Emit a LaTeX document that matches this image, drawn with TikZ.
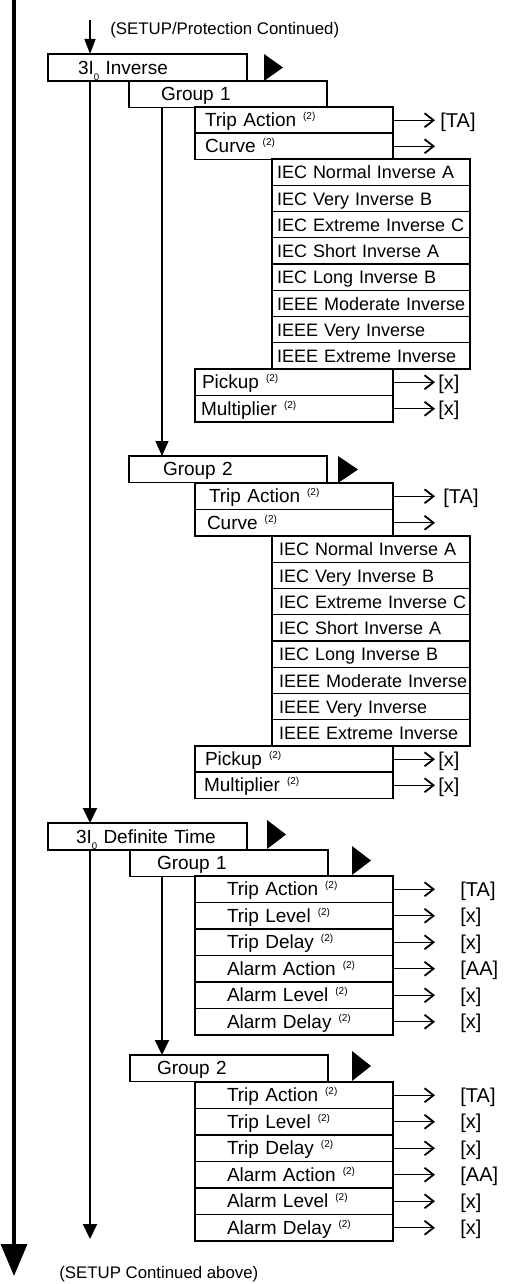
\documentclass[tikz,border=0pt]{standalone}
\usepackage{fontspec}
\setmainfont{Liberation Sans}
\usetikzlibrary{arrows.meta}
\newcommand\tsup{\hspace{3.5pt}\raisebox{3.6pt}{\fontsize{5}{6}\selectfont(2)}}
\newcommand\tsub{\raisebox{-3pt}{\fontsize{4.8}{5}\selectfont 0}}
\begin{document}
\begin{tikzpicture}[x=0.5pt,y=-0.5pt,
  base/.style={draw, anchor=north west, outer sep=0pt, inner ysep=0pt, align=left,
    text height=6.7pt, text depth=0pt, font=\fontsize{9.5}{11}\selectfont},
  thickbox/.style={base, line width=1.25pt, minimum height=13.5pt},
  itembox/.style={base, line width=0.7pt, minimum height=13.25pt},
  crvbox/.style={base, line width=0.7pt, minimum height=13.125pt, font=\fontsize{9}{11}\selectfont},
  lbl/.style={inner sep=0pt, anchor=west, text height=7pt, text depth=0pt, font=\fontsize{10}{12}\selectfont},
  note/.style={inner sep=0pt, anchor=west, font=\fontsize{8.4}{10}\selectfont},
  rarr/.style={line width=0.6pt, -{Straight Barb[length=4.5pt,width=7pt,line width=0.9pt]}},
  varr/.style={line width=#1, -{Triangle[length=7.5pt,width=6.5pt]}},
  play/.style={fill=black}
]
\useasboundingbox (0,0) rectangle (506,1284);

% main flow line
\coordinate (mtop) at (14,0);
\coordinate (mbot) at (14,1276);
\draw[line width=1.75pt, -{Triangle[length=16pt,width=13pt]}] (mtop) -- (mbot);

\node[note] (ntop) at (110,30) {(SETUP/Protection Continued)};
\node[note] (nbot) at (59,1274) {(SETUP Continued above)};

% ---------------- 3I0 Inverse ----------------
\node[thickbox, inner xsep=15pt, text width=69.5pt] (inv) at (48,54) {\mbox{3I\tsub\ Inverse}};
\fill[play] (264,54) -- (264,81) -- (283,67.5) -- cycle;
\coordinate (tstart) at (90,20);
\draw[line width=0.75pt, -{Triangle[length=7.5pt,width=5.5pt]}] (tstart) -- (tstart |- inv.north);

% Group 1
\node[itembox, inner xsep=16pt, text width=67pt] (ig1) at (129,81) {Group 1};
\node[itembox, inner xsep=5pt, text width=89pt] (ig1ta) at (195,107) {Trip Action\tsup};
\node[itembox, inner xsep=5pt, text width=89pt] (ig1cu) at (195,133) {Curve\tsup};
\foreach \t [count=\i from 0] in {IEC Normal Inverse A, IEC Very Inverse B, IEC Extreme Inverse C, IEC Short Inverse A, IEC Long Inverse B, IEEE Moderate Inverse, IEEE Very Inverse, IEEE Extreme Inverse}
  \node[crvbox, inner xsep=2.5pt, text width=94pt] (ig1c\i) at (272,159+26.25*\i) {\mbox{\t}};
\node[itembox, inner xsep=3.5pt, text width=92pt] (ig1pu) at (195,369) {Pickup\tsup};
\node[itembox, inner xsep=3pt, text width=93pt] (ig1mu) at (195,395.5) {Multiplier\tsup};

\node[lbl] (ig1tal) at ([xshift=23.5pt]ig1ta.east) {[TA]};
\draw[rarr, shorten >=2.5pt] (ig1ta.east) -- (ig1ta.east -| ig1tal.west);
\coordinate (ig1cue) at ([xshift=21pt]ig1cu.east);
\draw[rarr] (ig1cu.east) -- (ig1cue);
\node[lbl] (ig1pul) at ([xshift=22.5pt]ig1pu.east) {[x]};
\draw[rarr, shorten >=1.5pt] (ig1pu.east) -- (ig1pu.east -| ig1pul.west);
\node[lbl] (ig1mul) at ([xshift=22.5pt]ig1mu.east) {[x]};
\draw[rarr, shorten >=1.5pt] (ig1mu.east) -- (ig1mu.east -| ig1mul.west);

% Group 2
\node[itembox, inner xsep=17pt, text width=65pt] (ig2) at (129,456) {Group 2};
\fill[play] (338,456) -- (338,483) -- (358,469.5) -- cycle;
\node[itembox, inner xsep=7pt, text width=85pt] (ig2ta) at (195,483) {Trip Action\tsup};
\node[itembox, inner xsep=6pt, text width=87pt] (ig2cu) at (195,509.5) {Curve\tsup};
\foreach \t [count=\i from 0] in {IEC Normal Inverse A, IEC Very Inverse B, IEC Extreme Inverse C, IEC Short Inverse A, IEC Long Inverse B, IEEE Moderate Inverse, IEEE Very Inverse, IEEE Extreme Inverse}
  \node[crvbox, inner xsep=3.5pt, text width=92pt] (ig2c\i) at (272,536+26.25*\i) {\mbox{\t}};
\node[itembox, inner xsep=5pt, text width=89pt] (ig2pu) at (195,746) {Pickup\tsup};
\node[itembox, inner xsep=4.5pt, text width=90pt] (ig2mu) at (195,772) {Multiplier\tsup};

\node[lbl] (ig2tal) at ([xshift=25pt]ig2ta.east) {[TA]};
\draw[rarr, shorten >=4pt] (ig2ta.east) -- (ig2ta.east -| ig2tal.west);
\coordinate (ig2cue) at ([xshift=21pt]ig2cu.east);
\draw[rarr] (ig2cu.east) -- (ig2cue);
\node[lbl] (ig2pul) at ([xshift=22.5pt]ig2pu.east) {[x]};
\draw[rarr, shorten >=1.5pt] (ig2pu.east) -- (ig2pu.east -| ig2pul.west);
\node[lbl] (ig2mul) at ([xshift=22.5pt]ig2mu.east) {[x]};
\draw[rarr, shorten >=1.5pt] (ig2mu.east) -- (ig2mu.east -| ig2mul.west);

% vertical connectors (inverse)
\coordinate (gx) at (162,0);
\draw[varr=0.6pt] (gx |- ig1.south) -- (gx |- ig2.north);

% ---------------- 3I0 Definite Time ----------------
\node[thickbox, inner xsep=14pt, text width=71.5pt] (dt) at (48,823) {\mbox{3I\tsub\ Definite Time}};
\fill[play] (267,820) -- (267,849) -- (286,834.5) -- cycle;
\draw[line width=1pt, -{Triangle[length=7.5pt,width=7pt]}] (tstart |- inv.south) -- (tstart |- dt.north);

\node[itembox, inner xsep=13.5pt, text width=72pt] (dg1) at (130,850) {Group 1};
\fill[play] (352,846) -- (352,875) -- (371,860.5) -- cycle;
\foreach \t/\l [count=\i from 0] in {Trip Action/[TA], Trip Level/[x], Trip Delay/[x], Alarm Action/[AA], Alarm Level/[x], Alarm Delay/[x]}{
  \node[itembox, inner xsep=16pt, text width=67pt] (dg1r\i) at (195,876+26.5*\i) {\t\tsup};
  \node[lbl] (dg1l\i) at ([xshift=33.5pt]dg1r\i.east) {\l};
  \draw[rarr, shorten >=12.5pt] (dg1r\i.east) -- (dg1r\i.east -| dg1l\i.west);
}

\node[itembox, inner xsep=13.5pt, text width=72pt] (dg2) at (130,1055) {Group 2};
\fill[play] (352,1051) -- (352,1081) -- (371,1066) -- cycle;
\foreach \t/\l [count=\i from 0] in {Trip Action/[TA], Trip Level/[x], Trip Delay/[x], Alarm Action/[AA], Alarm Level/[x], Alarm Delay/[x]}{
  \node[itembox, inner xsep=16pt, text width=67pt] (dg2r\i) at (195,1082+26.5*\i) {\t\tsup};
  \node[lbl] (dg2l\i) at ([xshift=33.5pt]dg2r\i.east) {\l};
  \draw[rarr, shorten >=12.5pt] (dg2r\i.east) -- (dg2r\i.east -| dg2l\i.west);
}

\draw[line width=1pt, -{Triangle[length=7.5pt,width=7pt]}] (gx |- dg1.south) -- (gx |- dg2.north);
\coordinate (dtend) at (90,1239);
\draw[line width=1pt, -{Triangle[length=7.5pt,width=7pt]}] (tstart |- dt.south) -- (dtend);
\end{tikzpicture}
\end{document}
